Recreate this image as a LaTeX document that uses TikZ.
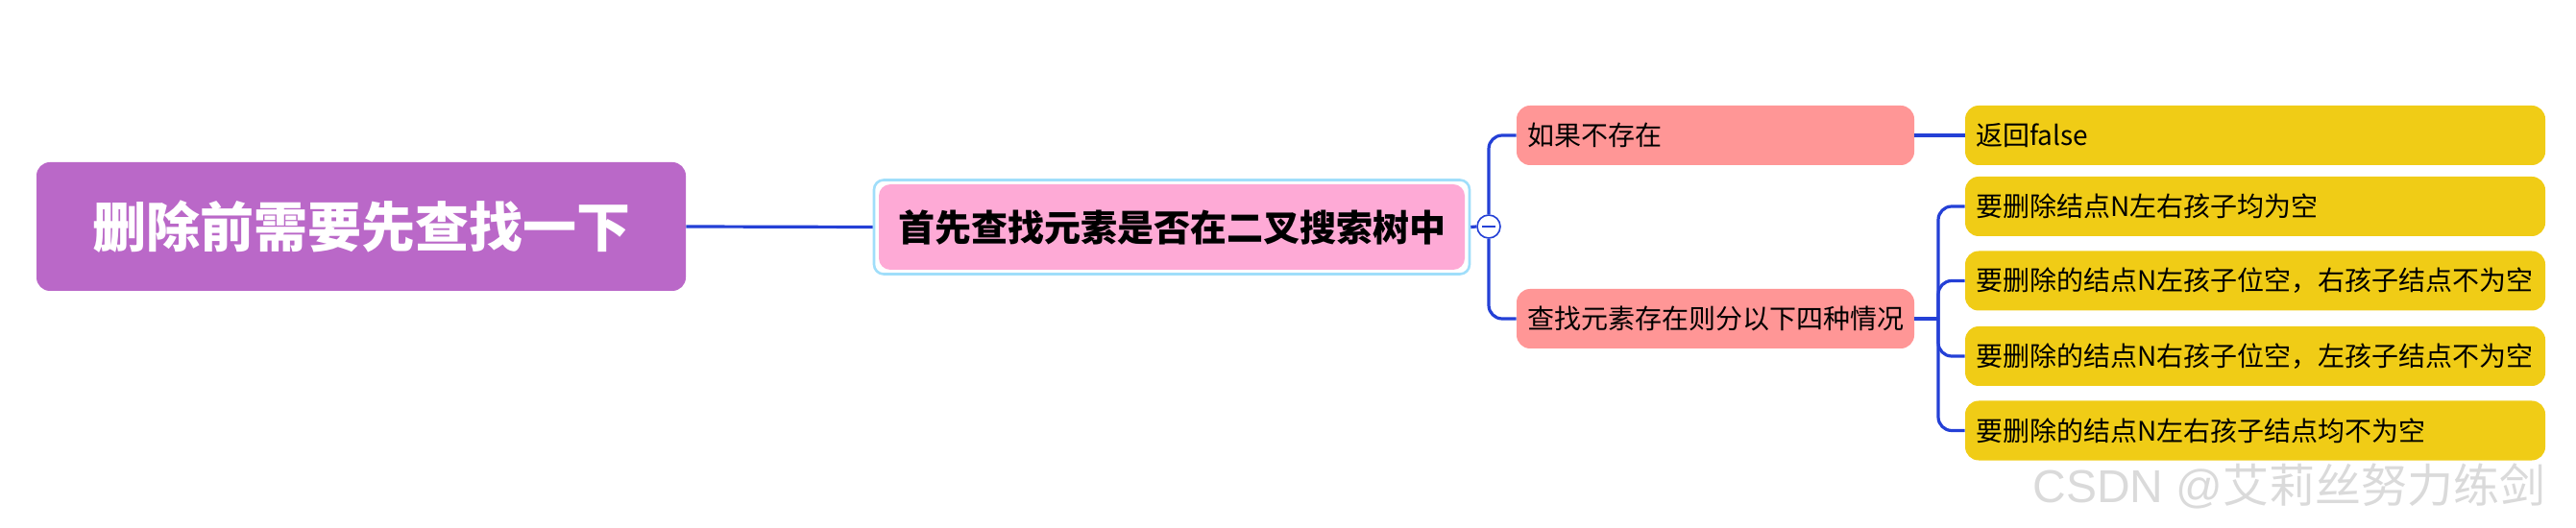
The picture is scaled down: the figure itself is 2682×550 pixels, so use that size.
\documentclass[tikz,border=0pt]{standalone}
\usepackage{fontspec}
\newfontfamily\cjk{Noto Sans CJK SC}
\newfontfamily\wmlat{Liberation Sans}
\definecolor{conn}{RGB}{36,64,214}
\definecolor{rootc}{RGB}{186,104,200}
\definecolor{pinkc}{RGB}{254,170,214}
\definecolor{ringc}{RGB}{160,222,250}
\definecolor{salmon}{RGB}{255,150,150}
\definecolor{yel}{RGB}{240,204,22}
\definecolor{wm}{RGB}{218,218,218}
\tikzset{
  link/.style={draw=conn, line width=1.6pt},
  rootbox/.style={fill=rootc, rounded corners=7pt, minimum width=338pt, minimum height=67pt, inner sep=0pt, text=white, font=\cjk\bfseries\fontsize{28pt}{30pt}\selectfont},
  ringbox/.style={draw=ringc, line width=1.3pt, fill=white, rounded corners=5pt, minimum width=310pt, minimum height=49pt, inner sep=0pt},
  midbox/.style={fill=pinkc, rounded corners=6pt, minimum width=305pt, minimum height=44.5pt, inner sep=0pt, text=black, font=\cjk\bfseries\fontsize{19pt}{21pt}\selectfont},
  lvtwo/.style={fill=salmon, rounded corners=7pt, minimum height=31pt, text width=196pt, inner xsep=5.5pt, inner ysep=0pt, align=left, text=black, font=\cjk\fontsize{14pt}{16pt}\selectfont},
  lvthree/.style={fill=yel, rounded corners=7pt, minimum height=31pt, text width=291pt, inner xsep=5.5pt, inner ysep=0pt, align=left, text=black, font=\cjk\fontsize{14pt}{16pt}\selectfont},
  foldmark/.style={circle, draw=conn, line width=0.8pt, fill=white, minimum size=12pt, inner sep=0pt}
}
\begin{document}
\begin{tikzpicture}[x=0.5pt,y=-0.5pt]
\useasboundingbox (0,0) rectangle (2682,550);
% root
\node[rootbox] (root) at (376,236) {删除前需要先查找一下};
% middle node with ring
\node[ringbox] (ring) at (1220,236.5) {};
\node[midbox] (mid) at (1220,236.5) {首先查找元素是否在二叉搜索树中};
% level two
\node[lvtwo] (a) at (1786,141) {如果不存在};
\node[lvtwo] (b) at (1786,332) {查找元素存在则分以下四种情况};
% level three
\node[lvthree] (c1) at (2348,141) {返回false};
\node[lvthree] (c2) at (2348,215) {要删除结点N左右孩子均为空};
\node[lvthree] (c3) at (2348,292.5) {要删除的结点N左孩子位空，右孩子结点不为空};
\node[lvthree] (c4) at (2348,371) {要删除的结点N右孩子位空，左孩子结点不为空};
\node[lvthree] (c5) at (2348,448.5) {要删除的结点N左右孩子结点均不为空};
% fold marker
\node[foldmark] (fold) at (1550,236) {};
\coordinate (j) at (2018,332);
% connectors
\draw[link] (root.east) -- (ring.west);
\draw[link] (ring.east) -- (fold.west);
\draw[link, rounded corners=7pt] (fold.north) |- (a.west);
\draw[link, rounded corners=7pt] (fold.south) |- (b.west);
\draw[link] (a.east) -- (c1.west);
\draw[link] (b.east) -- (j);
\draw[link, rounded corners=7pt] (j) |- (c2.west);
\draw[link, rounded corners=7pt] (j) |- (c3.west);
\draw[link, rounded corners=7pt] (j) |- (c4.west);
\draw[link, rounded corners=7pt] (j) |- (c5.west);
\draw[conn, line width=0.8pt] ([xshift=-3.5pt]fold.center) -- ([xshift=3.5pt]fold.center);
% watermark
\node[anchor=west, inner sep=0pt, text=wm, font=\fontsize{24pt}{26pt}\selectfont] (wmk) at (2116,506) {\wmlat CSDN @\cjk 艾莉丝努力练剑};
\end{tikzpicture}
\end{document}
